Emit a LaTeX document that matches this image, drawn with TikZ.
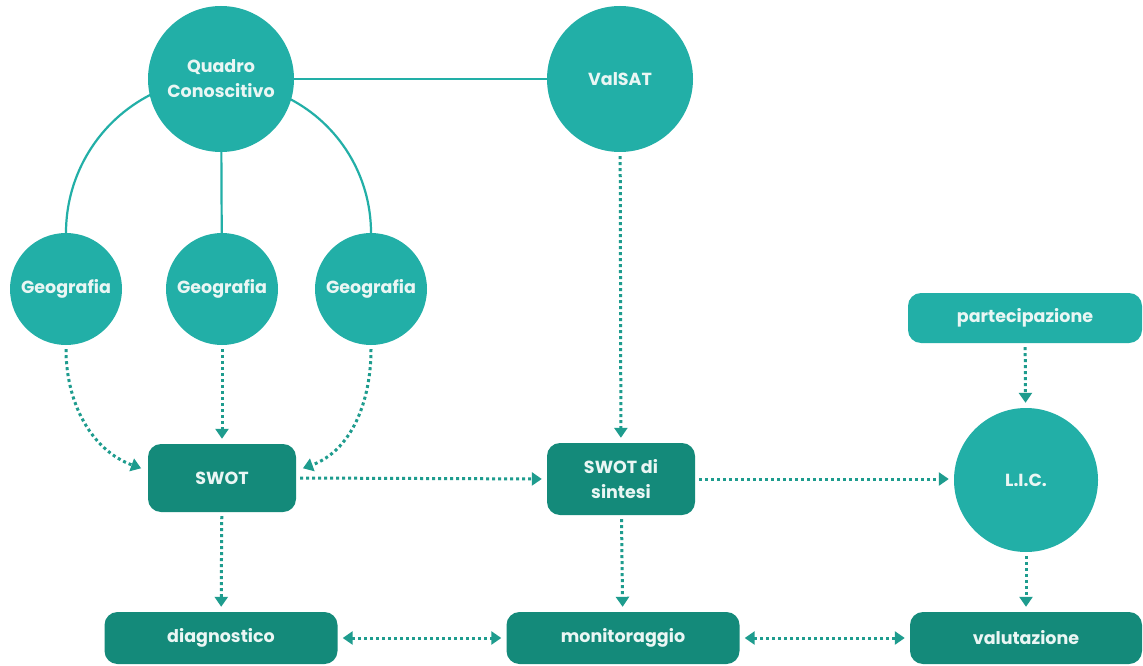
\documentclass[tikz,border=0pt]{standalone}
\usepackage{fontspec}
\setmainfont[Ligatures=NoCommon]{Poppins}
\usetikzlibrary{arrows.meta}
\definecolor{lightteal}{HTML}{22AFA7}
\definecolor{darkteal}{HTML}{148A7A}
\definecolor{arrteal}{HTML}{1E9C8E}
\definecolor{txt}{HTML}{EAF6F4}
\begin{document}
\begin{tikzpicture}[x=1pt,y=1pt,
  lbl/.style={text=txt,font=\fontsize{17.5}{25}\selectfont\bfseries,align=center,inner sep=0pt},
  circ/.style={lbl,circle,fill=lightteal},
  lbox/.style={lbl,rectangle,rounded corners=13pt,fill=lightteal},
  dbox/.style={lbl,rectangle,rounded corners=13pt,fill=darkteal},
  solidcon/.style={draw=lightteal,line width=2.2pt},
  dotcon/.style={draw=arrteal,line width=3pt,dash pattern=on 3pt off 3pt,
     -{Triangle[width=13pt,length=10pt]},shorten >=5pt,shorten <=4pt},
  dotbi/.style={dotcon,{Triangle[width=13pt,length=10pt]}-{Triangle[width=13pt,length=10pt]},shorten >=5pt,shorten <=5pt}
]
\useasboundingbox[fill=white] (0,0) rectangle (1143,-666);
% nodes
\node[circ,minimum size=146pt] (q) at (221,-79) {Quadro\\Conoscitivo};
\node[circ,minimum size=146pt] (v) at (620,-79) {ValSAT};
\node[circ,minimum size=112pt] (g1) at (66,-289) {Geografia};
\node[circ,minimum size=112pt] (g2) at (222,-289) {Geografia};
\node[circ,minimum size=112pt] (g3) at (371,-289) {Geografia};
\node[circ,minimum size=144pt] (lic) at (1026,-480) {L.I.C.};
\node[lbox,minimum width=234pt,minimum height=50pt] (part) at (1025,-318) {partecipazione};
\node[dbox,minimum width=148pt,minimum height=68pt] (swot) at (222,-478) {SWOT};
\node[dbox,minimum width=148pt,minimum height=72pt] (sds) at (621,-479) {SWOT di\\sintesi};
\node[dbox,minimum width=233pt,minimum height=52pt] (diag) at (221,-638) {diagnostico};
\node[dbox,minimum width=233pt,minimum height=52pt] (mon) at (623,-638) {monitoraggio};
\node[dbox,minimum width=232pt,minimum height=52pt] (val) at (1026,-638) {valutazione};
% solid connectors
\draw[solidcon] (q) -- (v);
\draw[solidcon] (q) -- (g2);
\draw[solidcon] (g1.north) arc[start angle=180,end angle=117,radius=155];
\draw[solidcon] (g3.north) arc[start angle=0,end angle=63,radius=151];
% dotted connectors
\draw[dotcon] (g1.south) to[out=-90,in=160] ([xshift=-2pt,yshift=8pt]swot.west);
\draw[dotcon] (g2) -- (swot);
\draw[dotcon] (g3.south) to[out=-90,in=20] ([xshift=2pt,yshift=8pt]swot.east);
\draw[dotcon] (swot.east) -- (sds.west);
\draw[dotcon] (v) -- (sds);
\draw[dotcon] (sds.east) -- (lic.west |- sds.east);
\draw[dotcon] (part) -- (lic);
\draw[dotcon] (lic) -- (val);
\draw[dotcon] (swot) -- (diag);
\draw[dotcon] (sds) -- (mon);
\draw[dotbi] (diag) -- (mon);
\draw[dotbi] (mon) -- (val);
\end{tikzpicture}
\end{document}
